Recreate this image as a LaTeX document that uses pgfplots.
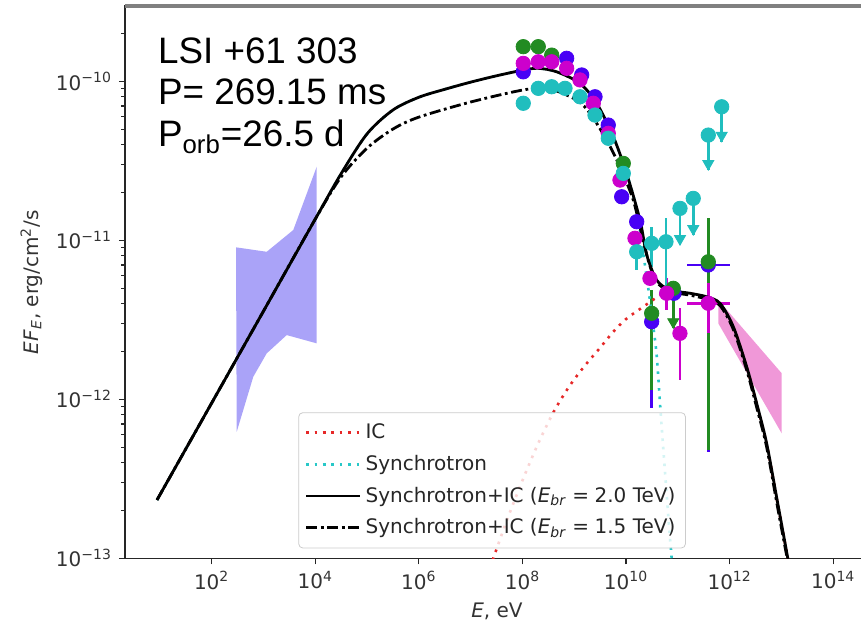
\documentclass[border=0pt]{standalone}
\usepackage{pgfplots}
\pgfplotsset{compat=1.18}
\usepackage{pgfplotstable}
\usepackage{fontspec}
\setmainfont{DejaVu Sans}
\newfontfamily\arial{Liberation Sans}

\definecolor{cG}{RGB}{34,139,34}
\definecolor{cM}{RGB}{204,0,204}
\definecolor{cB}{RGB}{72,0,245}
\definecolor{cC}{RGB}{32,190,190}
\definecolor{cIC}{RGB}{230,40,40}
\definecolor{cSy}{RGB}{40,200,200}
\definecolor{bandB}{RGB}{170,163,248}
\definecolor{bandP}{RGB}{240,152,216}

% log10(E/eV)  log10(EF_E)
\pgfplotstableread{
lx ly
0.944 -12.633
2.0 -12.023
3.0 -11.445
4.0 -10.866
4.5 -10.58
5.0 -10.33
5.5 -10.18
6.0 -10.10
6.5 -10.05
7.0 -10.005
7.5 -9.965
8.0 -9.93
8.3 -9.918
8.66 -9.94
9.11 -10.013
9.432 -10.138
9.753 -10.348
10.01 -10.579
10.268 -10.872
10.398 -11.09
10.59 -11.25
10.848 -11.312
11.234 -11.333
11.556 -11.355
11.813 -11.396
12.07 -11.543
12.328 -11.795
12.521 -12.025
12.714 -12.277
12.92 -12.64
13.122 -13.0
13.2 -13.15
}\totA

\pgfplotstableread{
lx ly
0.944 -12.633
2.0 -12.023
3.0 -11.445
4.0 -10.866
4.5 -10.60
5.0 -10.42
5.5 -10.30
6.0 -10.225
7.0 -10.13
8.0 -10.055
8.5 -10.045
9.046 -10.118
9.303 -10.201
9.625 -10.369
9.88 -10.537
10.139 -10.747
10.327 -10.998
10.45 -11.15
10.59 -11.262
10.848 -11.322
11.234 -11.345
11.556 -11.37
11.813 -11.41
12.07 -11.56
12.328 -11.815
12.521 -12.05
12.714 -12.30
12.92 -12.67
13.11 -13.0
13.2 -13.16
}\totB

\pgfplotstableread{
lx ly
7.37 -13.06
7.436 -13.0
7.7 -12.76
8.0 -12.51
8.3 -12.28
8.6 -12.08
8.9 -11.92
9.2 -11.79
9.5 -11.675
9.753 -11.575
10.0 -11.495
10.332 -11.418
10.59 -11.36
10.848 -11.32
11.234 -11.335
11.556 -11.357
11.813 -11.398
12.07 -11.545
12.328 -11.797
12.521 -12.027
12.714 -12.28
12.92 -12.645
13.122 -13.0
13.2 -13.15
}\icT

\pgfplotstableread{
lx ly
0.944 -12.633
2.0 -12.023
3.0 -11.445
4.0 -10.866
4.5 -10.58
5.0 -10.33
5.5 -10.18
6.0 -10.10
6.5 -10.05
7.0 -10.005
7.5 -9.965
8.0 -9.93
8.3 -9.918
8.66 -9.94
9.11 -10.013
9.432 -10.138
9.753 -10.348
10.01 -10.579
10.2 -10.8
10.33 -11.08
10.42 -11.28
10.50 -11.48
10.59 -11.72
10.66 -12.05
10.75 -12.45
10.83 -12.8
10.88 -13.0
10.92 -13.2
}\syT

\begin{document}
\begin{tikzpicture}
\begin{axis}[
  name=ax,
  scale only axis,
  width=372pt, height=276.15pt,
  xmin=0.326, xmax=14.69,
  ymin=-13, ymax=-9.526,
  xtick={2,4,6,8,10,12,14},
  xticklabels={10\textsuperscript{2},10\textsuperscript{4},10\textsuperscript{6},10\textsuperscript{8},10\textsuperscript{10},10\textsuperscript{12},10\textsuperscript{14}},
  ytick={-13,-12,-11,-10},
  yticklabels={10\textsuperscript{−13},10\textsuperscript{−12},10\textsuperscript{−11},10\textsuperscript{−10}},
  minor ytick={-12.699,-12.523,-12.398,-12.301,-12.222,-12.155,-12.097,-12.046,
    -11.699,-11.523,-11.398,-11.301,-11.222,-11.155,-11.097,-11.046,
    -10.699,-10.523,-10.398,-10.301,-10.222,-10.155,-10.097,-10.046,-9.699},
  tick align=outside,
  major tick length=3pt,
  minor tick length=1.8pt,
  tick style={black!85, line width=0.6pt},
  xtick pos=bottom, ytick pos=left,
  axis line style={black!85, line width=0.7pt},
  tick label style={font=\fontsize{10}{12}\selectfont, text=black!80},
  label style={font=\fontsize{10}{12}\selectfont, text=black!80},
  xlabel={\textit{E}, eV},
  ylabel={\textit{EF}\textsubscript{\textit{E}}, erg/cm\textsuperscript{2}/s},
  legend image code/.code={\draw[#1] (0pt,0pt) -- (21.7pt,0pt); \path (0pt,0pt) -- (27pt,0pt);},
  legend style={at={(0.233,0.018)}, anchor=south west, draw=black!20,
    fill=white, fill opacity=0.8, text opacity=1, draw opacity=1,
    rounded corners=2pt, font=\fontsize{10}{12}\selectfont,
    row sep=2.8pt, inner xsep=3pt, inner ysep=3.5pt,
    cells={anchor=west}, text=black!85},
  error bars/error mark=none,
  mark size=3.6pt,
]
% bands
\addplot[fill=bandB, draw=none, forget plot] coordinates {
 (2.469,-11.044) (3.062,-11.072) (3.575,-10.935) (4.027,-10.537)
 (4.027,-11.648) (3.448,-11.596) (3.062,-11.711) (2.803,-11.858) (2.483,-12.204)} -- cycle;
\addplot[fill=bandP, draw=none, forget plot] coordinates {
 (11.78,-11.375) (13.004,-11.836) (13.004,-12.214) (11.78,-11.522)} -- cycle;

% blue points
\addplot[only marks, mark=*, cB, mark options={fill=cB, draw=cB}, forget plot] coordinates {
 (8.015,-9.940) (8.853,-9.855) (9.143,-9.960) (9.400,-10.097) (9.656,-10.275)
 (9.915,-10.726) (10.205,-10.883) (10.925,-11.333)};
\addplot[only marks, mark=*, cB, mark options={fill=cB, draw=cB}, forget plot,
  error bars/.cd, x dir=both, x explicit, y dir=both, y explicit,
  error bar style={line width=1.4pt, cB}] coordinates {
 (10.494,-11.512) += (0,0) -= (0,0.545)
 (11.587,-11.155) += (0.418,0) -= (0.418,1.175)};

% green points
\addplot[only marks, mark=*, cG, mark options={fill=cG, draw=cG}, forget plot] coordinates {
 (8.015,-9.782) (8.305,-9.782) (8.564,-9.835) (9.946,-10.516)};
\addplot[only marks, mark=*, cG, mark options={fill=cG, draw=cG}, forget plot,
  error bars/.cd, y dir=both, y explicit,
  error bar style={line width=1.4pt, cG}] coordinates {
 (10.494,-11.459) += (0,0.146) -= (0,0.482)
 (11.587,-11.135) += (0,0.273) -= (0,1.184)
 (10.911,-11.302) += (0,0) -= (0,0.251)};
\addplot[only marks, mark=triangle*, cG, mark size=3.2pt, mark options={rotate=180, fill=cG, draw=cG}, forget plot] coordinates {
 (10.911,-11.513)};

% magenta points
\addplot[only marks, mark=*, cM, mark options={fill=cM, draw=cM}, forget plot] coordinates {
 (8.015,-9.887) (8.305,-9.877) (8.564,-9.877) (8.853,-9.918) (9.110,-9.991)
 (9.367,-10.138) (9.656,-10.327) (9.882,-10.621) (10.172,-10.987) (10.461,-11.239)};
\addplot[only marks, mark=*, cM, mark options={fill=cM, draw=cM}, forget plot,
  error bars/.cd, x dir=both, x explicit, y dir=both, y explicit,
  error bar style={line width=1.4pt, cM}] coordinates {
 (10.784,-11.333) += (0,0.096) -= (0,0.105)
 (11.040,-11.585) += (0,0.157) -= (0,0.292)
 (11.587,-11.396) += (0.418,0.126) -= (0.418,0.189)};

% cyan points
\addplot[only marks, mark=*, cC, mark options={fill=cC, draw=cC}, forget plot] coordinates {
 (8.015,-10.138) (8.305,-10.044) (8.564,-10.034) (8.821,-10.044) (9.110,-10.097)
 (9.400,-10.212) (9.656,-10.358) (9.946,-10.579)};
\addplot[only marks, mark=*, cC, mark options={fill=cC, draw=cC}, forget plot,
  error bars/.cd, y dir=both, y explicit,
  error bar style={line width=1.4pt, cC}] coordinates {
 (10.205,-11.072) += (0,0.03) -= (0,0.114)
 (10.494,-11.019) += (0,0.105) -= (0,0.147)
 (10.770,-11.009) += (0,0.147) -= (0,0.304)
 (11.041,-10.799) += (0,0) -= (0,0.231)
 (11.297,-10.736) += (0,0) -= (0,0.231)
 (11.587,-10.338) += (0,0) -= (0,0.220)
 (11.846,-10.160) += (0,0) -= (0,0.220)};
\addplot[only marks, mark=triangle*, cC, mark size=3.2pt, mark options={rotate=180, fill=cC, draw=cC}, forget plot] coordinates {
 (11.041,-10.990) (11.297,-10.927) (11.587,-10.518) (11.846,-10.340)};

% model curves
\addplot[cIC, line width=1.3pt, dash pattern=on 1.3pt off 2.9pt, smooth, tension=0.5] table[x=lx, y=ly] {\icT};
\addlegendentry{IC}
\addplot[cSy, line width=1.3pt, dash pattern=on 1.3pt off 2.9pt, smooth, tension=0.5] table[x=lx, y=ly] {\syT};
\addlegendentry{Synchrotron}
\addplot[black, line width=1.4pt, smooth, tension=0.5] table[x=lx, y=ly] {\totA};
\addlegendentry{Synchrotron+IC (\textit{E}\textsubscript{\textit{br}}\;=\;2.0 TeV)}
\addplot[black, line width=1.4pt, dash pattern=on 5.5pt off 1.8pt on 1.4pt off 1.8pt, smooth, tension=0.5] table[x=lx, y=ly] {\totB};
\addlegendentry{Synchrotron+IC (\textit{E}\textsubscript{\textit{br}}\;=\;1.5 TeV)}
\end{axis}
\draw[gray, line width=1.6pt] (ax.north west) -- (ax.north east);
\node[anchor=base west, inner sep=0pt, font=\arial\fontsize{18.4}{20}\selectfont] at ([shift={(16.35pt,-28.6pt)}]ax.north west) {LSI +61 303};
\node[anchor=base west, inner sep=0pt, font=\arial\fontsize{18.4}{20}\selectfont] at ([shift={(16.35pt,-49.5pt)}]ax.north west) {P= 269.15 ms};
\node[anchor=base west, inner sep=0pt, font=\arial\fontsize{18.4}{20}\selectfont] at ([shift={(16.35pt,-70.35pt)}]ax.north west) {P\textsubscript{orb}=26.5 d};
\pgfresetboundingbox
\path ([shift={(-62.5pt,-33.35pt)}]ax.south west) rectangle ([shift={(368pt,3pt)}]ax.north west);
\end{tikzpicture}
\end{document}
